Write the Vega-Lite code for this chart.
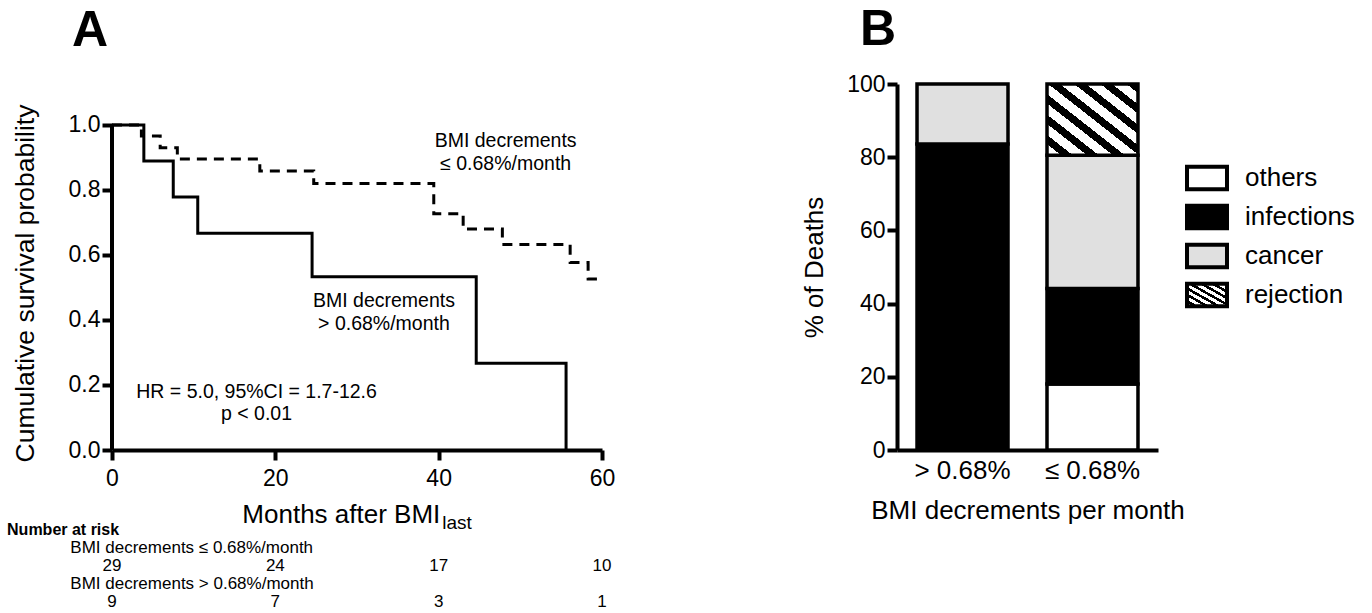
{
  "$schema": "https://vega.github.io/schema/vega-lite/v6.json",
  "padding": {"left": 7, "top": 5, "right": 5, "bottom": 2},
  "config": {
    "font": "Liberation Sans",
    "view": {"stroke": null},
    "axis": {"domainColor": "black", "tickColor": "black", "labelColor": "black", "titleColor": "black", "grid": false, "titleFontWeight": "normal", "domainWidth": 4, "tickWidth": 4, "labelFlush": false, "labelOverlap": false},
    "title": {"color": "black"}
  },
  "datasets": {
    "km": [
      {"group": "gt", "month": 0, "surv": 1.0},
      {"group": "gt", "month": 3.9, "surv": 0.889},
      {"group": "gt", "month": 7.5, "surv": 0.778},
      {"group": "gt", "month": 10.5, "surv": 0.667},
      {"group": "gt", "month": 24.5, "surv": 0.533},
      {"group": "gt", "month": 44.6, "surv": 0.267},
      {"group": "gt", "month": 55.6, "surv": 0.0},
      {"group": "le", "month": 0, "surv": 1.0},
      {"group": "le", "month": 3.6, "surv": 0.966},
      {"group": "le", "month": 5.9, "surv": 0.93},
      {"group": "le", "month": 8.0, "surv": 0.895},
      {"group": "le", "month": 18.1, "surv": 0.858},
      {"group": "le", "month": 24.7, "surv": 0.82},
      {"group": "le", "month": 39.4, "surv": 0.727},
      {"group": "le", "month": 43.0, "surv": 0.68},
      {"group": "le", "month": 47.8, "surv": 0.632},
      {"group": "le", "month": 56.1, "surv": 0.577},
      {"group": "le", "month": 58.3, "surv": 0.526},
      {"group": "le", "month": 59.8, "surv": 0.526}
    ],
    "risk": [
      {"group": "le", "month": 0, "n": 29},
      {"group": "le", "month": 20, "n": 24},
      {"group": "le", "month": 40, "n": 17},
      {"group": "le", "month": 60, "n": 10},
      {"group": "gt", "month": 0, "n": 9},
      {"group": "gt", "month": 20, "n": 7},
      {"group": "gt", "month": 40, "n": 3},
      {"group": "gt", "month": 60, "n": 1}
    ],
    "deaths": [
      {"group": "> 0.68%", "cause": "infections", "pct": 83.6},
      {"group": "> 0.68%", "cause": "cancer", "pct": 16.4},
      {"group": "≤ 0.68%", "cause": "others", "pct": 18.0},
      {"group": "≤ 0.68%", "cause": "infections", "pct": 26.1},
      {"group": "≤ 0.68%", "cause": "cancer", "pct": 36.4},
      {"group": "≤ 0.68%", "cause": "rejection", "pct": 19.5}
    ]
  },
  "columns": 2,
  "bounds": "flush",
  "spacing": {"row": 85, "column": 295},
  "concat": [
    {
      "width": 490,
      "height": 366,
      "title": {"text": "A", "fontSize": 50, "fontWeight": "bold", "anchor": "start", "frame": "group", "dx": -40, "offset": -12, "baseline": "alphabetic", "color": "black"},
      "layer": [
        {
          "data": {"name": "km"},
          "mark": {"type": "line", "interpolate": "step-after", "strokeWidth": 3, "color": "black"},
          "encoding": {
            "x": {"field": "month", "type": "quantitative", "scale": {"domain": [0, 60], "nice": false, "zero": false},
                  "axis": {"values": [0, 20, 40, 60], "title": null, "labelFontSize": 23, "tickSize": 10, "labelPadding": 7}},
            "y": {"field": "surv", "type": "quantitative", "scale": {"domain": [0, 1.126], "nice": false},
                  "axis": {"values": [0, 0.2, 0.4, 0.6, 0.8, 1], "format": ".1f", "domain": false, "title": "Cumulative survival probability", "titleFontSize": 26.5, "titlePadding": 29, "titleY": 199, "labelFontSize": 23, "tickSize": 10, "labelPadding": 2}},
            "strokeDash": {"field": "group", "type": "nominal", "scale": {"domain": ["gt", "le"], "range": [[1, 0], [10, 7]]}, "legend": null}
          }
        },
        {
          "data": {"values": [{}]},
          "mark": {"type": "rule", "strokeWidth": 4, "color": "black"},
          "encoding": {"x": {"datum": 0, "type": "quantitative"}, "y": {"datum": 0, "type": "quantitative"}, "y2": {"datum": 1}}
        },
        {
          "data": {"values": [{}]},
          "mark": {"type": "text", "text": ["BMI decrements", "≤ 0.68%/month"], "fontSize": 19.5, "lineHeight": 23, "align": "center", "baseline": "middle", "color": "black"},
          "encoding": {"x": {"datum": 48.2, "type": "quantitative"}, "y": {"datum": 0.951, "type": "quantitative"}}
        },
        {
          "data": {"values": [{}]},
          "mark": {"type": "text", "text": ["BMI decrements", "> 0.68%/month"], "fontSize": 19.5, "lineHeight": 22.5, "align": "center", "baseline": "middle", "color": "black"},
          "encoding": {"x": {"datum": 33.3, "type": "quantitative"}, "y": {"datum": 0.458, "type": "quantitative"}}
        },
        {
          "data": {"values": [{}]},
          "mark": {"type": "text", "text": ["HR = 5.0, 95%CI = 1.7-12.6", "p < 0.01"], "fontSize": 19.5, "lineHeight": 21.5, "align": "center", "baseline": "middle", "color": "black"},
          "encoding": {"x": {"datum": 17.7, "type": "quantitative"}, "y": {"datum": 0.178, "type": "quantitative"}}
        }
      ]
    },
    {
      "width": 261,
      "height": 366,
      "title": {"text": "B", "fontSize": 50, "fontWeight": "bold", "anchor": "start", "frame": "group", "dx": -37, "offset": -22, "baseline": "alphabetic", "color": "black"},
      "data": {"name": "deaths"},
      "transform": [{"calculate": "indexof(['others','infections','cancer','rejection'], datum.cause)", "as": "stack_rank"}],
      "mark": {"type": "bar", "stroke": "black", "strokeWidth": 3.5},
      "encoding": {
        "x": {"field": "group", "type": "nominal", "sort": ["> 0.68%", "≤ 0.68%"], "scale": {"paddingInner": 0.3, "paddingOuter": 0.154},
              "axis": {"title": "BMI decrements per month", "labelAngle": 0, "ticks": false, "tickSize": 0, "labelFontSize": 26, "labelPadding": 7, "titleFontSize": 26, "titlePadding": 14}},
        "y": {"field": "pct", "type": "quantitative", "stack": "zero", "scale": {"domain": [0, 100], "nice": false},
              "axis": {"values": [0, 20, 40, 60, 80, 100], "title": "% of Deaths", "titleFontSize": 26, "titlePadding": 19, "labelFontSize": 23, "tickSize": 10, "labelPadding": 2}},
        "order": {"field": "stack_rank", "type": "quantitative", "sort": "ascending"},
        "fill": {"field": "cause", "type": "nominal", "sort": ["others", "infections", "cancer", "rejection"],
                 "scale": {"domain": ["others", "infections", "cancer", "rejection"],
                           "range": ["#ffffff", "#000000", "#e0e0e0", {"expr": "{gradient:'linear',x1:0,y1:1,x2:1,y2:0,stops:[{offset:0,color:'#fff'},{offset:0.079,color:'#fff'},{offset:0.079,color:'#000'},{offset:0.143,color:'#000'},{offset:0.143,color:'#fff'},{offset:0.221,color:'#fff'},{offset:0.221,color:'#000'},{offset:0.286,color:'#000'},{offset:0.286,color:'#fff'},{offset:0.364,color:'#fff'},{offset:0.364,color:'#000'},{offset:0.429,color:'#000'},{offset:0.429,color:'#fff'},{offset:0.507,color:'#fff'},{offset:0.507,color:'#000'},{offset:0.571,color:'#000'},{offset:0.571,color:'#fff'},{offset:0.65,color:'#fff'},{offset:0.65,color:'#000'},{offset:0.714,color:'#000'},{offset:0.714,color:'#fff'},{offset:0.793,color:'#fff'},{offset:0.793,color:'#000'},{offset:0.857,color:'#000'},{offset:0.857,color:'#fff'},{offset:0.936,color:'#fff'},{offset:0.936,color:'#000'},{offset:1,color:'#000'}]}"}]},
                 "legend": {"title": null, "orient": "none", "direction": "vertical", "legendX": 1078, "legendY": 77, "symbolType": "M-1.333,-0.747H1.333V0.747H-1.333Z", "symbolSize": 900, "symbolStrokeColor": "black", "symbolStrokeWidth": 4, "symbolOpacity": 1, "labelFontSize": 26, "labelColor": "black", "labelOffset": 21, "rowPadding": -1, "labelLimit": 0, "padding": 0}}
      }
    },
    {
      "width": 490,
      "height": 72,
      "layer": [
        {
          "data": {"name": "risk"},
          "mark": {"type": "text", "fontSize": 17, "baseline": "alphabetic", "align": "center", "color": "black"},
          "encoding": {
            "x": {"field": "month", "type": "quantitative", "scale": {"domain": [0, 60], "nice": false, "zero": false}, "axis": null},
            "y": {"field": "group", "type": "nominal", "scale": {"type": "point", "padding": 0, "domain": ["hdr", "lelab", "le", "gtlab", "gt"]}, "axis": null},
            "text": {"field": "n", "type": "quantitative"}
          }
        },
        {
          "data": {"values": [{}]},
          "mark": {"type": "text", "text": "Number at risk", "fontSize": 16, "fontWeight": "bold", "align": "left", "baseline": "alphabetic", "color": "black"},
          "encoding": {"x": {"datum": -12.85, "type": "quantitative"}, "y": {"datum": "hdr", "type": "nominal"}}
        },
        {
          "data": {"values": [{}]},
          "mark": {"type": "text", "text": "BMI decrements ≤ 0.68%/month", "fontSize": 17, "align": "left", "baseline": "alphabetic", "color": "black"},
          "encoding": {"x": {"datum": -5.1, "type": "quantitative"}, "y": {"datum": "lelab", "type": "nominal"}}
        },
        {
          "data": {"values": [{}]},
          "mark": {"type": "text", "text": "BMI decrements > 0.68%/month", "fontSize": 17, "align": "left", "baseline": "alphabetic", "color": "black"},
          "encoding": {"x": {"datum": -5.1, "type": "quantitative"}, "y": {"datum": "gtlab", "type": "nominal"}}
        },
        {
          "data": {"values": [{}]},
          "mark": {"type": "text", "text": "Months after BMI", "fontSize": 26, "align": "right", "baseline": "alphabetic", "dy": -12, "color": "black"},
          "encoding": {"x": {"datum": 40.2, "type": "quantitative"}, "y": {"datum": "hdr", "type": "nominal"}}
        },
        {
          "data": {"values": [{}]},
          "mark": {"type": "text", "text": "last", "fontSize": 19, "align": "left", "baseline": "alphabetic", "dx": 2, "dy": -6, "color": "black"},
          "encoding": {"x": {"datum": 40.2, "type": "quantitative"}, "y": {"datum": "hdr", "type": "nominal"}}
        }
      ]
    }
  ]
}
